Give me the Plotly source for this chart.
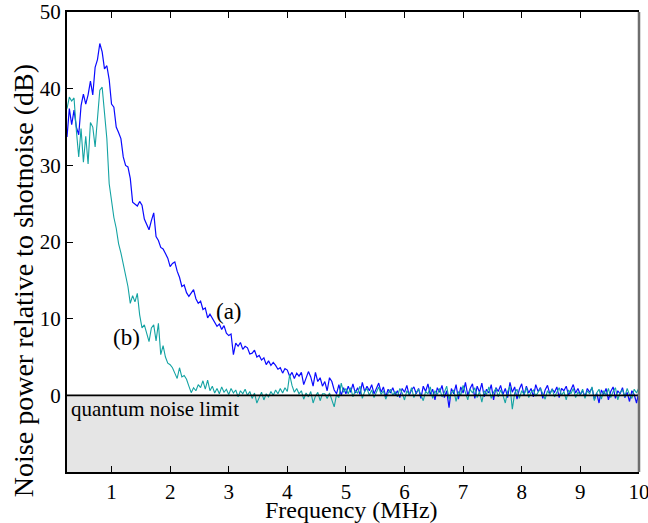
import numpy as np
import plotly.graph_objects as go

# Frequency grid (MHz)
freq_start = 0.24
freq_step = 0.04
n_points = 245
freq = np.round(freq_start + freq_step * np.arange(n_points), 2)

# Curve (a): noise power relative to shot noise (dB)
curve_a = [
    33.7, 37.4, 35.3, 37.2, 35.0, 34.0, 37.8, 39.3, 38.0, 39.2,
    41.0, 39.2, 42.8, 43.8, 45.9, 44.8, 42.6, 43.0, 41.2, 38.0,
    37.6, 35.0, 34.3, 33.5, 31.1, 30.0, 29.8, 28.3, 25.2, 25.0,
    24.7, 25.3, 24.8, 23.0, 22.3, 21.6, 22.8, 23.8, 20.7, 20.2,
    19.3, 19.1, 18.5, 17.9, 16.8, 17.2, 17.4, 16.2, 15.4, 14.2,
    14.4, 13.4, 12.9, 13.3, 13.8, 12.6, 12.0, 12.3, 11.2, 11.4,
    10.1, 10.6, 10.0, 9.6, 9.0, 9.3, 8.6, 9.1, 8.1, 7.8,
    8.0, 5.3, 6.8, 6.4, 6.9, 6.0, 6.4, 6.2, 5.4, 5.5,
    5.9, 5.0, 5.2, 4.6, 4.9, 4.0, 4.5, 3.9, 4.3, 3.9,
    3.4, 3.6, 2.9, 3.5, 3.3, 2.5, 3.0, 2.2, 2.9, 2.5,
    3.0, 1.4, 2.2, 3.1, 2.4, 1.2, 3.0, 1.8, 2.3, 1.2,
    1.8, 0.6, 2.3, 1.8, 0.7, 0.2, 1.4, 0.0, 1.0, 0.2,
    1.2, 0.4, 1.5, 0.3, 1.0, 0.1, 1.7, 0.5, 1.2, 0.6,
    1.4, 0.2, 0.9, 1.6, 0.4, 1.1, -0.2, 0.8, 0.3, 1.0,
    0.1, 0.6, -0.3, 0.9, 0.4, 1.3, 0.0, 0.7, 1.1, 0.2,
    0.9, -0.4, 1.2, 0.5, 1.5, 0.1, 0.8, -0.6, 1.0, 0.4,
    1.3, -0.3, 0.6, -1.6, 0.9, 0.2, 1.4, -0.5, 1.1, 0.3,
    1.7, 0.0, 0.9, 1.5, -0.4, 1.2, 0.4, 1.6, -0.2, 0.8,
    0.3, 1.4, -0.6, 1.0, 0.5, 1.3, 0.1, 0.9, -0.3, 1.7,
    0.4, 1.1, -0.5, 0.8, 1.5, 0.0, 1.2, 0.3, 0.9, -0.2,
    1.4, 0.5, 1.0, -0.4, 0.7, 1.3, 0.2, 0.8, 0.4, 1.1,
    -0.3, 0.9, 0.6, 1.2, 0.0, 0.7, 1.4, 0.3, 0.9, 0.1,
    0.6, -0.2, 0.9, 0.4, 1.0, -0.5, 0.3, -1.0, 0.7, 0.1,
    0.9, -0.6, 0.5, 1.1, -0.4, 0.6, 0.2, 1.0, -0.3, 0.4,
    -0.8, 0.6, 0.1, -1.0, 0.5,
]

# Curve (b)
curve_b = [
    37.4, 38.9, 38.4, 38.8, 34.5, 31.1, 34.8, 30.4, 33.8, 30.2,
    35.6, 35.0, 32.4, 36.2, 39.8, 40.2, 36.5, 33.5, 27.6, 25.4,
    23.2, 21.8, 19.8, 18.6, 17.0, 15.3, 14.2, 12.0, 13.0, 12.2,
    13.3, 10.5, 8.8, 9.2, 8.2, 7.0, 8.8, 9.2, 7.1, 9.4,
    5.3, 6.5, 5.0, 4.2, 4.0, 3.6, 2.9, 2.2, 3.6, 2.4,
    2.6, 2.1, 1.2, 0.35, 1.0, 0.6, 1.4, 1.0, 1.9, 0.8,
    2.0, 0.6, 1.2, 0.3, 0.9, 0.2, 1.1, 0.4, 0.8, 0.1,
    0.9, 0.3, 0.7, -0.2, 0.6, 0.2, 0.8, 0.0, 0.5, -0.4,
    0.3, -1.0, -0.3, 0.4, -0.6, 0.2, -0.2, 0.5, 0.0, 0.7,
    0.2, 0.9, 0.3, 1.0, 0.5, 2.7, 1.3, 0.4, 0.9, 0.2,
    0.6, -0.5, 0.3, -0.2, 0.5, -1.0, -0.1, 0.4, -0.7, 0.2,
    0.2, -0.4, 0.3, -0.6, -1.5, 0.1, -0.3, 1.6, 0.4, 0.9,
    0.2, 1.0, -0.2, 0.6, 0.3, 1.2, -0.4, 0.5, 0.9, 0.0,
    0.7, -0.3, 0.4, 1.1, 0.1, 0.6, -0.5, 0.3, 0.8, 0.0,
    0.5, -0.2, 0.9, 0.3, -0.6, 0.6, 0.1, 1.0, -0.3, 0.4,
    0.8, 0.0, -0.7, 0.5, 0.2, 1.1, -0.4, 0.6, 0.1, 0.9,
    -0.2, 0.4, 1.2, -0.5, 0.3, 0.7, -0.8, 0.5, 0.0, 1.3,
    0.2, -0.6, 0.8, 0.3, 1.0, -0.3, 0.5, -0.9, 0.6, 0.1,
    1.1, -0.4, 0.4, 0.9, -0.2, 0.7, 0.0, -1.0, 0.5, 1.2,
    -1.8, 0.3, 0.8, -0.4, 0.6, 0.1, 1.0, -0.3, 0.4, 0.7,
    -0.1, 0.5, 0.9, 0.2, -0.5, 0.6, 0.1, 0.8, -0.2, 0.4,
    1.0, 0.0, 0.5, -0.6, 0.7, 0.2, 0.9, -0.3, 0.4, 0.1,
    0.8, -0.4, 0.6, 0.2, 1.1, -0.7, 0.3, 0.8, -0.5, 0.6,
    0.0, 0.9, -0.3, 0.5, 1.0, -0.6, 0.4, 0.7, -0.2, 0.9,
    0.1, -0.4, 0.8, 0.3, 1.0,
]

x_ticks = [1, 2, 3, 4, 5, 6, 7, 8, 9, 10]
y_ticks = [0, 10, 20, 30, 40, 50]
x_range = [0.24, 10.002]
y_range = [-10, 50.01]
shot_noise_level = 0

FONT = "Liberation Serif, Times New Roman, serif"

fig = go.Figure()
fig.add_trace(go.Scatter(x=freq, y=curve_a, mode="lines",
                         line=dict(color="#0a0aff", width=1.2), showlegend=False))
fig.add_trace(go.Scatter(x=freq, y=curve_b, mode="lines",
                         line=dict(color="#14a3a3", width=1.1), showlegend=False))

# grey region below quantum noise limit
fig.add_shape(type="rect", xref="paper", yref="y", x0=0, x1=1,
              y0=y_range[0], y1=shot_noise_level, fillcolor="#e5e5e5",
              line=dict(width=0), layer="below")
fig.add_shape(type="line", xref="paper", yref="y", x0=0, x1=1,
              y0=shot_noise_level, y1=shot_noise_level, line=dict(color="black", width=1.6))
# right border (grey)
fig.add_shape(type="line", xref="paper", yref="paper", x0=1, x1=1, y0=0, y1=1,
              line=dict(color="#6e6e6e", width=2.5))

fig.add_annotation(x=3.0, y=11.0, text="(a)", showarrow=False,
                   font=dict(family=FONT, size=23, color="black"))
fig.add_annotation(x=1.25, y=7.5, text="(b)", showarrow=False,
                   font=dict(family=FONT, size=23, color="black"))
fig.add_annotation(x=0.004, y=-1.8, xref="paper", text="quantum noise limit", showarrow=False,
                   xanchor="left", font=dict(family=FONT, size=21, color="black"))

# axis titles
fig.add_annotation(x=0.498, y=-0.082, xref="paper", yref="paper", text="Frequency (MHz)",
                   showarrow=False, xanchor="center", yanchor="middle",
                   font=dict(family=FONT, size=24, color="black"))
fig.add_annotation(x=-0.077, y=0.417, xref="paper", yref="paper",
                   text="Noise power relative to shotnoise (dB)", textangle=-90,
                   showarrow=False, xanchor="center", yanchor="middle",
                   font=dict(family=FONT, size=28, color="black"))

fig.update_layout(
    width=648, height=523,
    margin=dict(l=67, r=9, t=12, b=51, autoexpand=False),
    paper_bgcolor="white", plot_bgcolor="white",
    font=dict(family=FONT, size=21, color="black"),
    xaxis=dict(range=x_range, tickvals=x_ticks, ticks="inside", ticklen=6,
               tickwidth=1.2, tickcolor="black", showline=True, linecolor="black",
               linewidth=2, mirror="ticks", showgrid=False, zeroline=False,
               automargin=False, ticklabeloverflow="allow", tickfont=dict(size=21)),
    yaxis=dict(range=y_range, tickvals=y_ticks, ticks="inside", ticklen=6,
               tickwidth=1.2, tickcolor="black", showline=True, linecolor="black",
               linewidth=2, mirror=False, showgrid=False, zeroline=False,
               automargin=False, ticklabeloverflow="allow", tickfont=dict(size=21)),
)

fig.write_html("out.html", config={"displayModeBar": False},
               post_script="document.body.style.margin='0px';document.body.style.overflow='hidden';")
